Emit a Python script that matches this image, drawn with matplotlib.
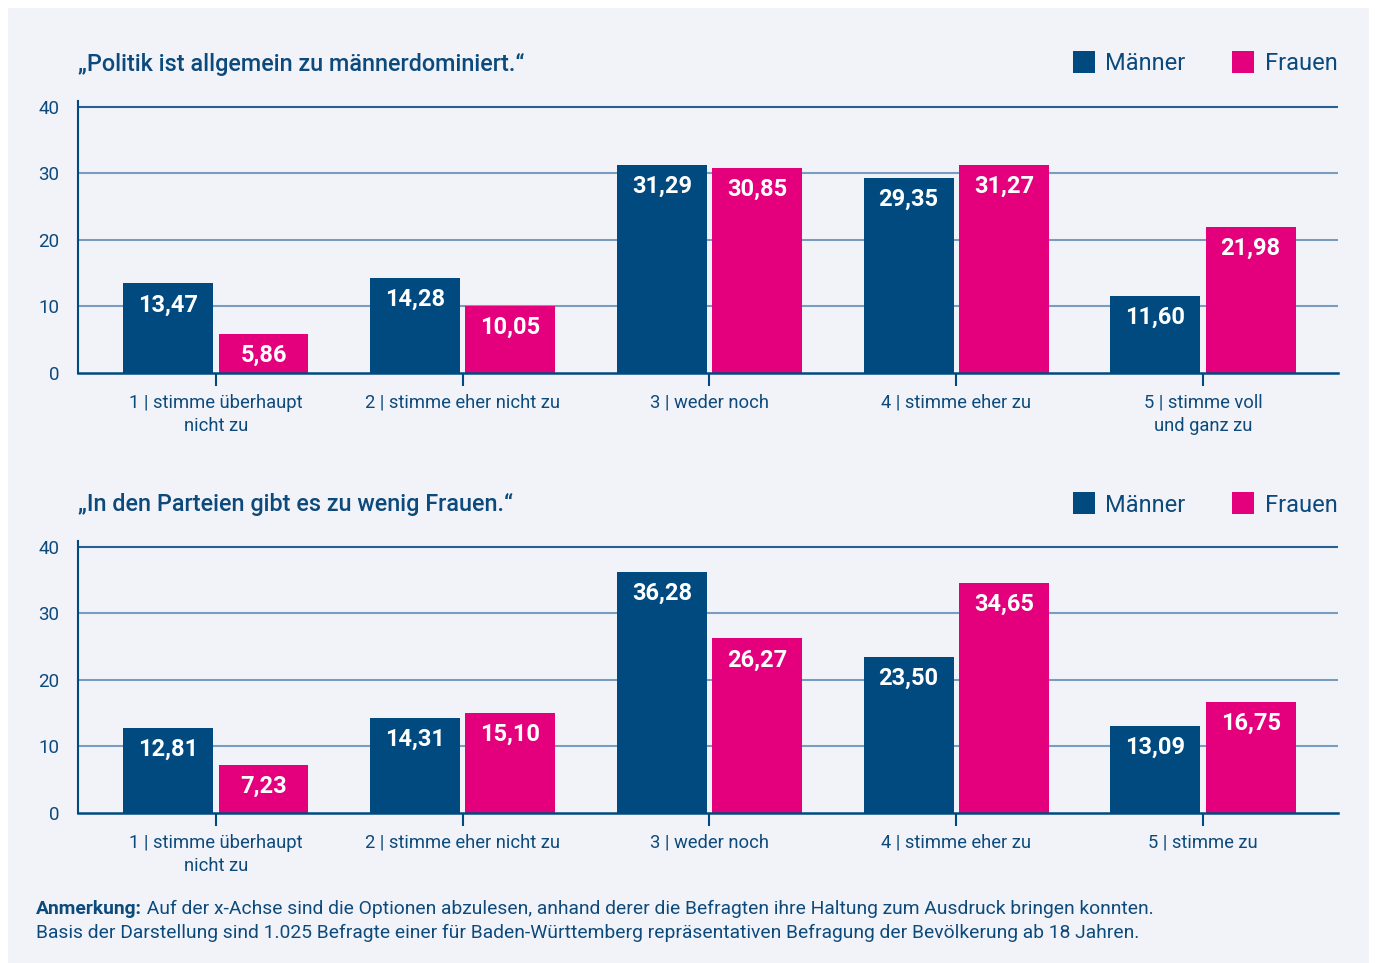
import matplotlib
matplotlib.use("Agg")
import matplotlib.pyplot as plt
from matplotlib.patches import Rectangle
import numpy as np

plt.rcParams['font.family'] = ['Roboto', 'DejaVu Sans']

# ---- data ----
categories_top = ["1 | stimme überhaupt\nnicht zu", "2 | stimme eher nicht zu", "3 | weder noch",
                  "4 | stimme eher zu", "5 | stimme voll\nund ganz zu"]
categories_bottom = ["1 | stimme überhaupt\nnicht zu", "2 | stimme eher nicht zu", "3 | weder noch",
                     "4 | stimme eher zu", "5 | stimme zu"]
maenner_top = [13.47, 14.28, 31.29, 29.35, 11.60]
frauen_top = [5.86, 10.05, 30.85, 31.27, 21.98]
maenner_bottom = [12.81, 14.31, 36.28, 23.50, 13.09]
frauen_bottom = [7.23, 15.10, 26.27, 34.65, 16.75]
title_top = "„Politik ist allgemein zu männerdominiert.“"
title_bottom = "„In den Parteien gibt es zu wenig Frauen.“"
series_names = ["Männer", "Frauen"]
yticks = [0, 10, 20, 30, 40]
note_bold = "Anmerkung:"
note_line1 = " Auf der x-Achse sind die Optionen abzulesen, anhand derer die Befragten ihre Haltung zum Ausdruck bringen konnten."
note_line2 = "Basis der Darstellung sind 1.025 Befragte einer für Baden-Württemberg repräsentativen Befragung der Bevölkerung ab 18 Jahren."

NAVY = "#004a7f"
MAGENTA = "#e4007c"
TEXT = "#0d4a7c"
GRID = "#7a9dbf"
PANEL = "#f1f3f9"

W, H = 1375, 963
fig = plt.figure(figsize=(W / 100, H / 100), dpi=100)
fig.patch.set_facecolor("white")
fig.patches.append(Rectangle((8 / W, 0), (1369 - 8) / W, (H - 8) / H, transform=fig.transFigure,
                             facecolor=PANEL, edgecolor="none", zorder=-5))


def px_axes(left, right, top, bottom):
    return fig.add_axes([left / W, (H - bottom) / H, (right - left) / W, (bottom - top) / H])


def draw_panel(ax, cats, m, f, title, title_y):
    ax.set_facecolor("none")
    x = np.arange(len(cats))
    bw = 0.364
    off = 0.193
    ax.set_xlim(-0.559, 4.547)
    ax.set_ylim(0, 40.9)
    for yv in [10, 20, 30]:
        ax.axhline(yv, color=GRID, lw=1.5, zorder=1)
    ax.axhline(40, color="#2a5f92", lw=1.5, zorder=1)
    b1 = ax.bar(x - off, m, width=bw, color=NAVY, zorder=2)
    b2 = ax.bar(x + off, f, width=bw, color=MAGENTA, zorder=2)
    for bars, vals in [(b1, m), (b2, f)]:
        for rect, v in zip(bars, vals):
            ax.annotate(f"{v:.2f}".replace(".", ","),
                        xy=(rect.get_x() + rect.get_width() / 2, v),
                        xytext=(0, -21.5 * 0.72), textcoords="offset points",
                        ha="center", va="center", color="white",
                        fontsize=17, fontweight="bold", zorder=3)
    for s in ["top", "right"]:
        ax.spines[s].set_visible(False)
    ax.spines["left"].set_color(NAVY)
    ax.spines["left"].set_linewidth(1.5)
    ax.spines["bottom"].set_color(NAVY)
    ax.spines["bottom"].set_linewidth(1.8)
    ax.spines["bottom"].set_zorder(4)
    ax.set_yticks(yticks)
    ax.set_yticklabels([str(t) for t in yticks])
    ax.tick_params(axis="y", length=0, pad=13.5, labelsize=13.5, labelcolor=TEXT)
    ax.set_xticks(x)
    ax.set_xticklabels(cats)
    ax.tick_params(axis="x", length=9, width=1.5, color=NAVY, pad=6,
                   labelsize=13.2, labelcolor=TEXT)
    for lab in ax.get_xticklabels():
        lab.set_linespacing(1.36)
    fig.text(78 / W, (H - title_y - 2) / H, title, ha="left", va="center",
             fontsize=16.8, fontweight="medium", color=TEXT)
    # legend
    for (sx, tx), col, name in [((1073, 1105), NAVY, series_names[0]),
                                ((1232, 1265), MAGENTA, series_names[1])]:
        fig.patches.append(Rectangle((sx / W, (H - title_y - 11) / H), 22 / W, 22 / H,
                                     transform=fig.transFigure, facecolor=col,
                                     edgecolor="none", zorder=3))
        fig.text(tx / W, (H - title_y - 2) / H, name, ha="left", va="center",
                 fontsize=17, color=TEXT)


ax1 = px_axes(78, 1338, 101, 373)
draw_panel(ax1, categories_top, maenner_top, frauen_top, title_top, 62)
ax2 = px_axes(78, 1338, 541, 813)
draw_panel(ax2, categories_bottom, maenner_bottom, frauen_bottom, title_bottom, 503)

# footnote
fig.canvas.draw()
r = fig.canvas.get_renderer()
fs_note = 13.9
tb = fig.text(36 / W, (H - 909) / H, note_bold, ha="left", va="center",
              fontsize=fs_note, fontweight="bold", color=TEXT)
bb = tb.get_window_extent(renderer=r)
fig.text(bb.x1 / W, (H - 909) / H, note_line1, ha="left", va="center",
         fontsize=fs_note, color=TEXT)
fig.text(36 / W, (H - 933) / H, note_line2, ha="left", va="center",
         fontsize=fs_note, color=TEXT)

fig.savefig("out.png", dpi=100, facecolor=fig.get_facecolor())
